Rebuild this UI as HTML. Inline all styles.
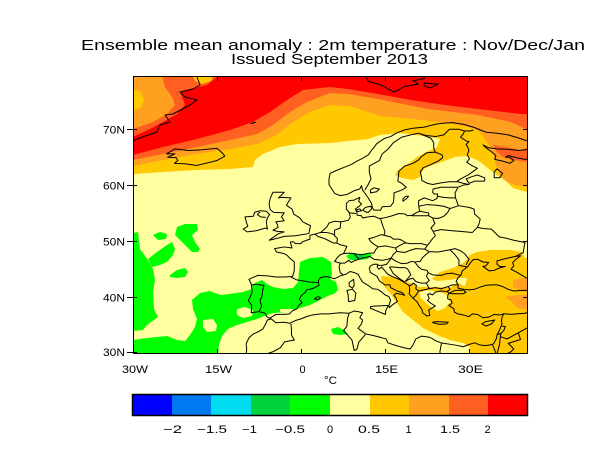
<!DOCTYPE html>
<html><head><meta charset="utf-8"><style>
html,body{margin:0;padding:0;background:#fff;}
svg{display:block;}
.geo path{vector-effect:non-scaling-stroke;}
text{font-family:"Liberation Sans",sans-serif;fill:#000;}
</style></head><body>
<svg xmlns="http://www.w3.org/2000/svg" width="600" height="450" viewBox="0 0 600 450">
<rect width="600" height="450" fill="#fff"/>
<defs><clipPath id="c"><rect x="133" y="76" width="395" height="278"/></clipPath></defs>
<g clip-path="url(#c)">
<rect x="133" y="76" width="395" height="278" fill="#ffffa0"/>
<!-- north warm layers -->
<path fill="#ffc800" d="M133 76 L528 76 L528 192 L527 192 L513 188 L507 182 L500 177 L490 170 L483 164 L477 160 L467 156 L455 157 L447 160 L433 165 L425 168 L422 172 L420 177 L413 180 L402 178 L395 175 L397 171 L407 165 L417 157 L427 152 L437 147 L440 139 L430 137 L400 133 L380 135 L368 139 L348 141 L330 143 L297 144 L280 147 L263 154 L255 160 L253 167 L230 169 L197 170 L163 172 L133 174 Z"/>
<path fill="#ffa020" d="M133 76 L528 76 L528 186 L515 185 L507 182 L500 175 L496 165 L493 152 L487 142 L480 132 L473 128 L447 123 L413 119 L380 116 L350 106 L330 105 L310 112 L293 122 L277 135 L257 144 L230 149 L197 154 L163 160 L133 166 Z"/>
<path fill="#ff5f20" d="M133 76 L528 76 L528 130 L511 122 L478 115 L428 109 L378 99 L348 94 L330 93 L307 102 L290 112 L273 125 L257 134 L230 140 L197 147 L163 154 L133 160 Z"/>
<path fill="#ff5f20" d="M493 145 L507 147 L520 150 L528 148 L528 162 L513 160 L503 157 L497 152 Z"/>
<path fill="#ffa020" d="M133 76 L162 76 L165 87 L172 97 L175 105 L167 114 L153 122 L133 129 Z"/>
<path fill="#ffc800" d="M133 90 L140 91 L144 99 L141 108 L133 110 Z"/>
<path fill="#ffc800" d="M193 76 L213 76 L211 81 L202 84 L195 81 Z"/>
<path fill="#ff0000" d="M218 76 L528 76 L528 114 L521 114 L478 109 L445 105 L411 100 L378 94 L348 89 L330 87 L303 90 L287 100 L270 112 L253 122 L230 130 L197 139 L163 147 L133 155 L133 137 L150 129 L163 122 L177 114 L185 105 L183 99 L180 92 L190 89 L207 85 Z"/>
<!-- SE warm region -->
<path fill="#ffc800" d="M382 276 L395 277 L407 282 L420 287 L437 287 L450 288 L457 283 L465 286 L467 278 L460 278 L450 280 L437 281 L432 279 L440 272 L453 268 L465 262 L470 255 L477 252 L490 250 L510 250 L522 252 L525 258 L528 258 L528 354 L470 354 L470 347 L463 343 L450 340 L437 335 L423 328 L413 320 L403 312 L397 303 L390 293 L383 285 L381 278 Z"/>
<path fill="#ffffa0" d="M420 292 L428 290 L440 292 L448 295 L450 302 L445 308 L438 311 L432 308 L425 302 L420 297 Z"/>
<path fill="#ffa020" d="M513 280 L523 278 L528 278 L528 292 L522 292 L513 287 Z"/>
<path fill="#ffa020" d="M505 297 L517 295 L528 295 L528 310 L517 308 L512 302 Z"/>
<!-- green -->
<g fill="#00ff00">
<path d="M133 233 L138 232 L140 249 L148 260 L153 269 L155 280 L153 292 L154 309 L158 317 L147 325 L143 330 L133 331 Z"/>
<path d="M148 259 L157 252 L167 245 L172 242 L175 249 L173 255 L167 262 L160 265 L152 267 Z"/>
<path d="M153 235 L160 232 L167 234 L166 239 L158 240 Z"/>
<path d="M177 227 L185 224 L197 224 L198 230 L192 235 L195 242 L200 249 L198 252 L192 252 L185 245 L180 240 L175 235 Z"/>
<path d="M170 275 L177 270 L185 268 L188 272 L185 277 L177 278 L170 277 Z"/>
<path d="M133 354 L133 340 L147 338 L167 336 L177 340 L185 341 L190 335 L195 327 L197 319 L193 309 L192 300 L200 293 L210 291 L220 295 L230 294 L243 292 L252 289 L253 284 L262 280 L267 284 L273 287 L283 289 L293 288 L298 282 L300 262 L310 258 L323 257 L331 262 L332 275 L330 279 L336 282 L338 290 L334 294 L330 295 L320 300 L310 305 L297 309 L287 312 L273 313 L267 315 L257 319 L247 322 L237 325 L228 329 L222 336 L219 344 L218 354 Z"/>
<path d="M346 256 L352 253 L360 254 L368 253 L372 255 L368 259 L358 260 L350 260 Z"/>
<path d="M331 329 L338 327 L344 330 L348 334 L340 335 L333 334 Z"/>
</g>
<path fill="#00d23c" d="M353 255 L362 255 L365 257 L358 259 L353 258 Z"/>
<g fill="#ffffa0">
<path d="M203 320 L213 319 L217 325 L216 331 L207 332 L203 327 Z"/>
<path d="M237 309 L245 307 L253 310 L252 316 L243 318 L237 315 Z"/>
<path d="M280 309 L293 309 L293 312 L280 312 Z"/>
</g>
<!-- coastlines -->
<g fill="none" stroke="#000" stroke-width="1" stroke-linejoin="round">
<path d="M197 75 L197 77 L200 85 L193 89 L180 92 L185 97 L197 100 L190 105 L173 114 L165 115 L170 122 L160 125 L157 132 L137 139 L133 141"/>
<g class="geo" transform="matrix(5.6 0 0 -5.575 301 519)">
<path d="M40.5 67.8 L39 68.3 L37 68.9 L35 69.2 L33 69.4 L32 69.8 L31 70.2 L29 70.8 L27 71.1 L25.5 71 L24 70.8 L22 70.3 L20 70.1 L18.5 69.8 L17 69.2 L16 68.6 L15 68.3 L14.5 68 L13.5 67.3 L13 66.6 L12.5 66 L12 65.3 L11 64.7 L10 64.2 L9 63.6 L8 63.2 L6.5 62.6 L5.2 62 L5 61 L5 60 L5.5 59.2 L6 58.4 L7 58 L8.2 58.2 L9.5 58.9 L10.5 59.2 L10.8 59.8 L11 59 L11.5 58.3 L12 57.6 L12.6 56.6 L12.7 56 L13 55.4 L14.2 55.4 L14.5 56 L16 56.1 L16.5 56.8 L16.6 57.7 L16.6 58.5 L18 59 L18.8 59.5 L18 60.2 L17.3 60.6 L17.4 61.5 L17.5 62.4 L18.5 63.3 L20 63.8 L21 64.4 L21.5 65 L22.5 65.7 L24 65.8 L25.2 65.3 L25.3 64.8 L24.5 64.2 L23.2 63.6 L21.8 63 L21.3 62.3 L21.5 61.4 L21.6 60.7 L22.6 60.2 L23.5 60 L25 60.3 L26.5 60.5 L28 60.5 L29 60.2 L30 60 L29 59.9 L28 59.5 L26.5 59.5 L25 59.5 L23.6 59.2 L23.5 58.6 L23.8 58.3 L24.4 58.3 L24.3 57.5 L23.5 57.1 L22 57.6 L21 57.1 L21 56.3 L21.1 55.7 L21.2 55.2 L20.5 54.9 L19.9 54.5 L19 54.4 L18.6 54.7 L17.5 54.8 L16 54.3 L14.8 54 L14 53.9 L13 54.3 L12 54.2 L11 54 L10.8 54.4 L10 54.5 L10 55 L9.7 55.6 L10.5 56.2 L10.8 56.5 L10.3 57 L10.5 57.7 L9.5 57.2 L8.6 57.1 L8.1 56.6 L8.1 55.6 L8.6 55 L8.8 54.2 L8.5 53.6 L7.2 53.3 L6 53.4 L5 53.1 L4.7 52.5 L4.2 52 L3.5 51.4 L2.5 51.1 L1.6 50.9 L1.6 50.2 L1 50 L0.2 49.7 L0 49.4 L-1 49.4 L-1.3 49.7 L-1.9 49.7 L-1.6 48.6 L-3 48.8 L-4.7 48.5 L-4.4 47.9 L-3 47.6 L-2.5 47.3 L-2 46.8 L-1.2 46.1 L-1.2 44.6 L-1.5 43.5 L-3 43.4 L-4.5 43.4 L-6 43.6 L-7.7 43.7 L-8.4 43.4 L-9.3 43 L-8.9 42.2 L-8.8 41.5 L-8.7 40.8 L-9 40 L-9.4 39.2 L-9.1 38.7 L-8.8 38.4 L-8.8 37.9 L-8.9 37 L-7.5 37.2 L-6.4 36.9 L-6.1 36.3 L-5.6 36 L-4.5 36.7 L-3 36.7 L-2 36.8 L-1.6 37.3 L-0.7 37.7 L-0.5 38.2 L0.2 38.8 L-0.3 39.4 L0 40 L0.8 40.7 L1 41.1 L2 41.3 L3.2 41.9 L3.1 42.8 L3.5 43.3 L4.5 43.5 L5 43.4 L6 43.1 L7 43.6 L8 43.9 L8.8 44.4 L9.5 44.2 L10.2 43.9 L10.5 43.3 L11 42.5 L12 41.9 L12.8 41.3 L13.7 41.2 L14.3 40.8 L15 40.2 L15.7 39.9 L16 39.2 L15.7 38.3 L15.8 37.9 L16.2 38.3 L16.6 38.6 L17.2 39 L17 39.6 L16.6 40.1 L17 40.5 L18 40.3 L18.5 40.1 L18.1 40.6 L17.2 40.9 L16 41.5 L15.9 42 L15 42 L14 42.7 L13.6 43.5 L12.4 44.2 L12.2 45 L12.4 45.4 L13 45.7 L13.7 45.7 L13.6 45.2 L13.9 44.8 L14.4 45.2 L15 44.5 L15.5 43.9 L16.5 43.4 L17.5 43 L18.5 42.4 L19.3 41.9 L19.4 41.4 L19.4 40.8 L19.3 40.4 L20 39.6 L20.7 39 L21.1 38.3 L21.6 37.6 L21.7 37 L22.5 36.4 L23 36.5 L22.8 37.5 L23.5 37.9 L24 38.2 L23.2 38.7 L22.6 39.2 L22.9 39.6 L22.6 40.3 L23 40.4 L23.5 40.2 L24 40.7 L25 40.9 L26 40.8 L26.5 40.6 L26.2 40.1 L26.2 39.5 L26.8 39.3 L27 38.7 L26.4 38.3 L27.3 37.7 L27.4 37.1 L28 36.8 L29 36.6 L30 36.3 L30.6 36.8 L31.5 36.7 L32.5 36.1 L33.5 36.2 L34.5 36.7 L35.5 36.6 L36.2 36.8 L35.9 36.2 L35.8 35.5 L35.9 35 L35.5 34 L35 33 L34.9 32.4 L34.5 31.6 L34.2 31.3 L33 31.1 L32 31.2 L31 31.6 L30 31.3 L29 30.9 L27.5 31.2 L25 31.6 L24 32 L23 32.6 L21.5 32.8 L20.5 32.3 L20 31.2 L19.5 30.5 L18.5 30.7 L17 31.1 L15.5 31.6 L15.2 32.3 L13 32.9 L11.5 33.2 L11 33.6 L10.2 34.2 L10.8 35 L11 35.7 L10.5 36.1 L11 37 L10.2 37.2 L9.5 37.3 L8.5 36.9 L7 37 L6 36.9 L5 36.8 L3.5 36.8 L2 36.6 L1 36.3 L0 35.9 L-1 35.6 L-2 35.1 L-3 35.3 L-4.5 35.2 L-5.3 35.9 L-6 35.7 L-6.3 35 L-6.8 34.1 L-7.6 33.6 L-8.5 33.2 L-9.3 32.5 L-9.8 31.4 L-9.7 30.5 L-9.8 29.5"/>
<path d="M28 41.4 L28.1 42 L27.7 42.6 L28 43.2 L28.6 43.8 L28.8 44.5 L29.7 45.2 L30.3 46 L30.7 46.5 L31.5 46.6 L32.5 46.1 L33.5 46 L33 45.4 L32.5 45.3 L33.6 44.5 L34.5 44.6 L35.4 45 L36.5 45.3 L35.5 45.3 L35 45.7 L35 46.3 L36.5 46.7 L38.3 47.1 L39.2 47.2 L38.3 46.5 L37.8 46 L38 45.4 L37.5 44.8 L38.5 44.3 L39.8 43.5 L40.6 43"/>
<path d="M40.6 41 L39.5 41 L38 40.9 L37 41.2 L36 41.7 L35 42 L34 42 L33 41.9 L32 41.6 L31 41.2 L30 41.1 L29.1 41.2 L28.5 41.3 L28 41.4"/>
<path d="M29.1 41.1 L29.2 40.8 L29.5 40.7 L29 40.4 L28 40.4 L27 40.4 L26.5 40.5 M26.6 40.6 L27.5 41 L28.5 41 L29.1 41.1"/>
<path d="M-5.7 50 L-4 50.4 L-3 50.7 L-1 50.8 L1.4 51.2 L1.7 52.6 L0.3 53.3 L-0.2 54 L-1.3 54.7 L-1.6 55.6 L-2.2 56 L-2.6 56.3 L-1.8 57.6 L-3.3 57.7 L-4 57.6 L-3 58.6 L-5 58.6 L-5.5 57.5 L-5.7 56.5 L-5.5 55.5 L-4.9 55 L-3 54.9 L-3.5 54.2 L-3 53.5 L-4.5 53.3 L-4.2 52.8 L-4.1 52.3 L-5 51.8 L-4.2 51.6 L-3 51.5 L-4 51.2 L-5.7 50 Z"/>
<path d="M-6 52 L-6.2 53.3 L-6 54 L-5.6 54.6 L-6.2 55.2 L-7.3 55.3 L-8.3 55 L-8.5 54.3 L-10 54.2 L-9.8 53.4 L-9.5 52.5 L-10.3 52 L-9.6 51.5 L-8 51.7 L-6.3 52.2 Z"/>
<path d="M9.4 43 L9.5 42 L9.2 41.4 L8.6 41.8 L8.6 42.4 Z M9.2 41.2 L9.8 40.5 L9.6 39.2 L8.5 39 L8.4 40.3 L8.2 41 Z M12.4 38.1 L13.3 38.2 L15.6 38.3 L15.1 37.3 L15.1 36.7 L14.3 37 L12.4 37.8 Z M23.5 35.3 L24.3 35.4 L26.3 35.3 L26 35 L24.8 34.9 L23.6 35.2 Z M32.3 35 L33 35.4 L34.6 35.7 L34 35 L33 34.6 Z M2.4 39.5 L3 39.9 L3.5 39.7 L3 39.3 Z"/>
<path d="M-24 65.5 L-22.5 66.4 L-20 66.1 L-18 66.2 L-15 66.5 L-14 65.6 L-13.6 65.1 L-15 64.3 L-17 63.8 L-18.7 63.4 L-20.5 63.7 L-22.6 63.8 L-22 64.3 L-22.3 64.8 L-23.8 64.9 L-22.5 65.5 Z M-9 70.9 L-8 71.2"/>
<path d="M11 80 L11.8 79 L12 78.5 L13.5 78.1 L15 77.5 L16.5 76.6 L17.5 77 L18.5 77.6 L21 78 L20 78.6 L22 79 L22 80 M22 78.2 L24.5 78 L23 77.3 L22 77.7 Z M20 80 L22 79.5 L27 79.7"/>
<path d="M40.5 66.3 L39 66.1 L37 66.3 L35 66.4 L33.5 66.6 L32.5 67.1 L33 66.6 L34 65.9 L34.8 65.2 L34.6 64.5 L36 64.2 L37.3 63.8 L38 64.3 L37.2 64.9 L36.5 64.9 L37 65.2 L38.5 64.8 L40 64.5 L40.6 64.6"/>
<path d="M30 60.2 L31 60.6 L32.8 60.6 L32.8 61.2 L31.5 61.7 L30.5 61.4 L29.5 61 Z M34.5 61.2 L35.5 61.2 L36 62 L35 62.8 L34.5 62.3 Z M12.4 58.5 L13.5 58.7 L14 59.2 L13 59.4 L12.4 59 Z M18.2 57 L18.9 57.5 L19.2 57.9 L18.7 57.9 L18.2 57.4 Z M12 55 L12.6 55.6 L12.5 56.1 L11.5 55.9 L11 55.4 L11.8 55 Z M10 55.1 L10.8 55.3 L10.5 55.6 L10 55.5 Z"/>
<!-- borders -->
<path d="M11.4 59 L12 60 L12.5 61 L12.2 62.2 L12.2 63.3 L14 64.3 L14.5 65.5 L15.5 66.3 L16.5 67.5 L18 68.5 L20 69 L21 69.2 M24 65.8 L23.7 66.5 L23.7 67.5 L23.2 68.3 L21 69.2 M21 69.2 L22.3 68.8 L24 68.6 L25.5 68.9 L26.5 69.9 L28.2 69.9 L29.2 69.6 L29 69.1 L28.5 68.5 L29.5 67.8 L30 67.7 L29.5 67.2 L30 66.2 L29.7 65.3 L30.1 64.6 L29.6 64 L30.5 63.4 L31.5 62.9 L30 61.8 L28.5 61 L27.8 60.5 M30.8 69.8 L30.2 69.6 L29.2 69.6"/>
<path d="M28 59.4 L27.5 58.5 L27.6 57.6 L28.1 56.2 M24.3 57.9 L25.5 57.7 L26.5 57.6 L27.6 57.6 M21 56.1 L22.5 56.4 L24 56.3 L25.5 56.1 L26.6 55.7 M28.1 56.2 L27 55.8 L26.6 55.7 M26.6 55.7 L26.2 55 L25.5 54.3 L24.5 53.9 L23.5 54 M21.2 55.2 L22.8 54.9 L22.8 54.4 L19.7 54.4 M22.8 54.4 L23.5 54 M23.5 54 L23.9 53 L23.2 52.2 L23.6 51.6 L24 50.8 L23.5 50.3 L22.6 49.1 M28.1 56.2 L30 55.9 L30.9 55.6 L31 54.7 L32 53.8 L31.8 53 L31.5 52.3 L32.5 52.1 M23.6 51.6 L25 51.9 L27 51.7 L28.5 51.6 L30.6 51.4 L31.5 52.3 M32.5 52.1 L34 52 L34.5 51.5 L35.4 50.6 L36.5 50.4 L38 50 L40 49.6 L39.8 48.6 L39.7 47.8 L38.3 47.1"/>
<path d="M14.2 53.9 L14.4 53.2 L14.6 52.6 L15 51.5 L14.8 50.9 M14.8 50.9 L16 50.6 L16.5 50.2 L17.5 50.2 L18 50 L18.8 49.5 L19.5 49.4 L20.5 49.4 L21.5 49.4 L22.6 49.1 M14.8 50.9 L14.3 51 L13 50.5 L12.1 50.3 L12.5 49.7 L13 49.3 L13.8 48.8 M13.8 48.8 L13.4 48.4 L13 47.7 L12.2 47.7 L11 47.4 L10 47.5 L9.5 47.6 L8.6 47.7 L7.6 47.6 M13.8 48.8 L15 49 L16 48.8 L16.9 48.6 L17.5 49 L18.5 49.5 L18.8 49.5 M16.9 48.6 L17.1 48 L16.5 47.5 L16.1 46.8 M17.1 48 L18.5 47.8 L19.5 48.2 L20.5 48.5 L22.1 48.4 L22.6 49.1 M22.1 48.4 L22.9 47.95 L21.7 46.9 L21.3 46.2 L20.3 46.1 M22.9 47.95 L24.5 47.9 L26.6 48.3 L27.5 47.4 L28.2 46.5 L28.2 45.5 L29.7 45.2 M26.6 48.3 L27.5 48.5 L28.5 48.1 L29.2 47.6 L30 46.6 L29.5 45.6"/>
<path d="M10.4 46.6 L11 46.8 L12.3 47.1 L13 46.6 L13.7 46.5 L14.5 46.4 L15.5 46.6 L16.1 46.8 M7.6 47.6 L7 47.4 L6.5 46.9 L6 46.2 L7 45.9 L7.8 45.9 L8.5 46.4 L9 46 L9.5 46.3 L10.4 46.6 L10 47 L9.5 47.6 M7 45.9 L6.8 45.2 L7 44.2 L7.5 43.8 M7.6 47.6 L8.2 48.9 L7 49.2 L6.4 49.5 L5.8 49.5 L4.8 50 L4.2 50.3 L3 50.7 L2.5 51.1 M6.4 49.5 L6.5 50.3 L6 50.8 L6 51.8 L7 52.2 L7.1 53.3 M3.4 51.4 L4.5 51.4 L5.5 51.2 L5.9 51 L6 50.8 M8.6 54.9 L9.8 54.8"/>
<path d="M13.6 45.5 L14.5 45.5 L15.3 45.7 L15.7 46.2 L16.1 46.8 M16.1 46.8 L17 46.2 L18 45.8 L19 45.9 L19.7 46.2 L20.3 46.1 M15.8 45.2 L16.5 45.2 L17.5 45.1 L18.5 45.1 L19 44.9 M19 44.9 L19.3 44.4 L19.6 43.8 L19.2 43.3 L18.6 42.6 M15.8 45.2 L16.2 44.5 L16.5 44 L17.5 43.2 L18.5 42.5 M20.3 46.1 L21 45.2 L21.5 44.8 L22.5 44.6 L22.7 44.2 M22.7 44.2 L23.5 43.8 L25 43.7 L26 44 L27 44.1 L28 43.8 L28.6 43.7 M22.7 44.2 L22.4 43.5 L22.9 42.8 L22.4 42.3 L22.9 41.3 M22.9 41.3 L24 41.5 L25 41.3 L26.3 41.7 L27 42 L28 42 M26.3 41.7 L26.6 41.2 L26.1 40.8 M22.9 41.3 L21 40.9 L20.5 40.1 L20 39.6 M19.4 41.8 L20.1 42.3 L20.6 41.9 L20.5 41.3 L21 40.9 M18.6 42.6 L19.3 43 L20 43.2 L20.5 42.6 L21.5 42.3 L22.4 42.3"/>
<path d="M-1.8 43.4 L-0.8 42.9 L0.5 42.7 L1.5 42.5 L3.2 42.4 M-8.9 41.9 L-8.2 42.1 L-6.6 41.9 L-6.8 41.3 L-6.9 40.6 L-7 39.7 L-7.3 39.4 L-7.2 38.7 L-7 38.2 L-7.5 37.2 M36.2 36.8 L36.7 36.8 L37.5 36.7 L38.5 36.8 L40 36.9 L40.6 37.1 M35.9 34.6 L36.5 34.5 L36.2 33.8 L35.7 33.3 L35.1 33.1 M35.7 33.3 L35.6 32.7 L35.5 32 L35.5 31.5 L35 29.6 M35.6 32.7 L36.8 32.3 L38.8 33.4 L40.6 34.4 M34.2 31.3 L34.9 29.5 M38.8 33.4 L39.2 32.2 L37 31.5 L38 30.5 L37.5 30 L36 29.3"/>
<path d="M-1.8 35 L-1.7 34 L-1.7 33 L-1.2 32.1 L-2.9 31.8 L-3.7 30.7 L-5 30 L-6.5 29.5 L-8.7 28.7 M8.6 36.9 L8.3 36 L8.2 34.6 L7.6 33.8 L8.3 33 L9.1 32.1 L9.5 30.2 M11.5 33.1 L10.3 31.7 L10 30.5 L9.5 30.2 M25.1 31.6 L24.8 30 L24.9 29.5 M-7.3 55.1 L-7.8 54.6 L-7.2 54.2 L-6.3 54.1"/>
</g>
</g>
</g>
<!-- frame and ticks -->
<rect x="133.5" y="76.5" width="394" height="277" fill="none" stroke="#000" stroke-width="1"/>
<g stroke="#000" stroke-width="1">
<path d="M217.5 76 V81 M301.5 76 V81 M385.5 76 V81 M469.5 76 V81 M217.5 354 V349 M301.5 354 V349 M385.5 354 V349 M469.5 354 V349 M127 129.5 H137 M127 185.5 H137 M127 241.5 H137 M127 297.5 H137 M127 352.5 H137 M523 129.5 H528 M523 185.5 H528 M523 241.5 H528 M523 297.5 H528"/>
</g>
<!-- titles -->
<text x="81" y="50" font-size="15" textLength="504" lengthAdjust="spacingAndGlyphs">Ensemble mean anomaly : 2m temperature : Nov/Dec/Jan</text>
<text x="231" y="64" font-size="15" textLength="197" lengthAdjust="spacingAndGlyphs">Issued September 2013</text>
<!-- lat labels -->
<g font-size="11">
<text x="103" y="133.5" textLength="22" lengthAdjust="spacingAndGlyphs">70N</text>
<text x="103" y="189.5" textLength="22" lengthAdjust="spacingAndGlyphs">60N</text>
<text x="103" y="245.5" textLength="22" lengthAdjust="spacingAndGlyphs">50N</text>
<text x="103" y="301.5" textLength="22" lengthAdjust="spacingAndGlyphs">40N</text>
<text x="103" y="356" textLength="22" lengthAdjust="spacingAndGlyphs">30N</text>
<text x="122" y="373" textLength="26" lengthAdjust="spacingAndGlyphs">30W</text>
<text x="205" y="373" textLength="27" lengthAdjust="spacingAndGlyphs">15W</text>
<text x="302.5" y="373" text-anchor="middle">0</text>
<text x="375" y="373" textLength="23" lengthAdjust="spacingAndGlyphs">15E</text>
<text x="458" y="373" textLength="25" lengthAdjust="spacingAndGlyphs">30E</text>
<text x="324" y="384" textLength="13" lengthAdjust="spacingAndGlyphs">°C</text>
</g>
<!-- colorbar -->
<rect x="132" y="394" width="40" height="22" fill="#0000ff"/>
<rect x="172" y="394" width="39" height="22" fill="#0078f0"/>
<rect x="211" y="394" width="40" height="22" fill="#00dcf0"/>
<rect x="251" y="394" width="39" height="22" fill="#00d23c"/>
<rect x="290" y="394" width="40" height="22" fill="#00ff00"/>
<rect x="330" y="394" width="40" height="22" fill="#ffffa0"/>
<rect x="370" y="394" width="39" height="22" fill="#ffc800"/>
<rect x="409" y="394" width="40" height="22" fill="#ffa020"/>
<rect x="449" y="394" width="39" height="22" fill="#ff5f20"/>
<rect x="488" y="394" width="40" height="22" fill="#ff0000"/>
<rect x="132.5" y="394.5" width="395" height="21" fill="none" stroke="#000" stroke-width="1.5"/>
<g font-size="11">
<text x="163" y="433" textLength="19" lengthAdjust="spacingAndGlyphs">−2</text>
<text x="197" y="433" textLength="30" lengthAdjust="spacingAndGlyphs">−1.5</text>
<text x="242" y="433" textLength="15" lengthAdjust="spacingAndGlyphs">−1</text>
<text x="275" y="433" textLength="30" lengthAdjust="spacingAndGlyphs">−0.5</text>
<text x="330" y="433" text-anchor="middle">0</text>
<text x="358" y="433" textLength="22" lengthAdjust="spacingAndGlyphs">0.5</text>
<text x="408.5" y="433" text-anchor="middle">1</text>
<text x="440" y="433" textLength="20" lengthAdjust="spacingAndGlyphs">1.5</text>
<text x="487.5" y="433" text-anchor="middle">2</text>
</g>
</svg>
</body></html>
